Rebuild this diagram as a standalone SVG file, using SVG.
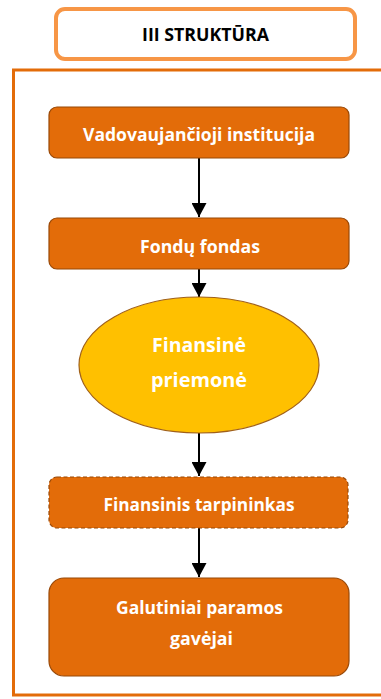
<svg xmlns="http://www.w3.org/2000/svg" width="381" height="699" viewBox="0 0 381 699">
<style>
.box{fill:#E36C09;stroke:#984807;stroke-width:1.2}
.lbl{font-family:"Open Sans","DejaVu Sans",sans-serif;font-weight:bold;font-size:17px;fill:#fff;text-anchor:middle}
.conn{stroke:#000;stroke-width:2;fill:none}
</style>
<defs>
<marker id="ah" viewBox="0 0 14 15" refX="14" refY="7.5" markerWidth="14" markerHeight="15" markerUnits="userSpaceOnUse" orient="auto">
<path d="M0,0 L14,7.5 L0,15 Z" fill="#000"/>
</marker>
</defs>
<rect x="0" y="0" width="381" height="699" fill="#fff"/>
<rect x="13.5" y="70" width="400" height="625" fill="#fff" stroke="#E36C09" stroke-width="3"/>
<g id="title">
<rect x="56" y="9" width="299" height="50" rx="9" fill="#fff" stroke="#F79646" stroke-width="4"/>
<text x="205.5" y="40.5" class="lbl" style="fill:#000" textLength="127" lengthAdjust="spacingAndGlyphs">III STRUKTŪRA</text>
</g>
<g id="connectors">
<line x1="199" y1="158" x2="199" y2="217" class="conn" marker-end="url(#ah)"/>
<line x1="199" y1="269" x2="199" y2="297" class="conn" marker-end="url(#ah)"/>
<line x1="199" y1="433" x2="199" y2="476" class="conn" marker-end="url(#ah)"/>
<line x1="199" y1="528" x2="199" y2="577" class="conn" marker-end="url(#ah)"/>
</g>
<g id="vadovaujancioji">
<rect x="49" y="107" width="300" height="51" rx="8" class="box"/>
<text x="199" y="140.5" class="lbl" textLength="232" lengthAdjust="spacingAndGlyphs">Vadovaujančioji institucija</text>
</g>
<g id="fondu-fondas">
<rect x="49" y="218" width="300" height="51" rx="8" class="box"/>
<text x="200" y="252.5" class="lbl" textLength="120" lengthAdjust="spacingAndGlyphs">Fondų fondas</text>
</g>
<g id="finansine-priemone">
<ellipse cx="199" cy="365" rx="120" ry="68" fill="#FFC000" stroke="#A0601A" stroke-width="1.2"/>
<text x="199" y="351.5" class="lbl" style="font-size:19px" textLength="94" lengthAdjust="spacingAndGlyphs">Finansinė</text>
<text x="199" y="386.5" class="lbl" style="font-size:19px" textLength="96" lengthAdjust="spacingAndGlyphs">priemonė</text>
</g>
<g id="finansinis-tarpininkas">
<rect x="49" y="477" width="299" height="51" rx="8" class="box" stroke="#8A4206" stroke-width="1.5" stroke-dasharray="4 2.5"/>
<text x="199" y="510.5" class="lbl" textLength="191" lengthAdjust="spacingAndGlyphs">Finansinis tarpininkas</text>
</g>
<g id="galutiniai">
<rect x="49" y="578" width="300" height="98" rx="15" class="box"/>
<text x="199.5" y="613.5" class="lbl" textLength="167" lengthAdjust="spacingAndGlyphs">Galutiniai paramos</text>
<text x="201.5" y="644.5" class="lbl" textLength="63" lengthAdjust="spacingAndGlyphs">gavėjai</text>
</g>
</svg>
